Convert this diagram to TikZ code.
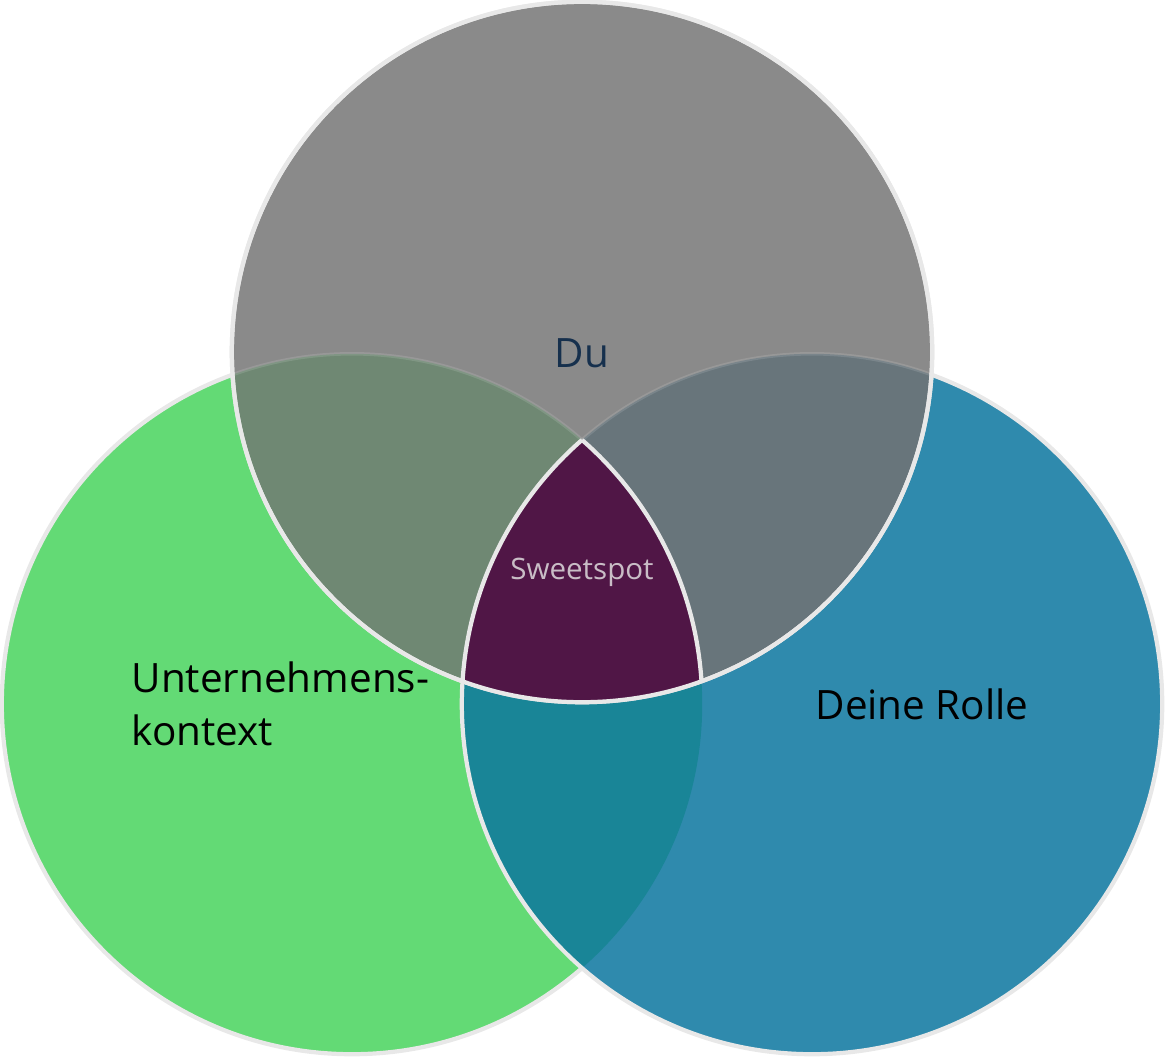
\documentclass[tikz,border=0pt]{standalone}
\usepackage{fontspec}
\setmainfont{Open Sans}
\definecolor{duGray}{HTML}{8A8A8A}
\definecolor{firmaGreen}{HTML}{63DA75}
\definecolor{rolleBlue}{HTML}{2F8AAD}
\definecolor{grayGreen}{HTML}{6F8873}
\definecolor{grayBlue}{HTML}{68757B}
\definecolor{greenBlue}{HTML}{198597}
\definecolor{spotPurple}{HTML}{501646}
\definecolor{ringWhite}{HTML}{E8E8E8}
\definecolor{duNavy}{HTML}{16304D}
\definecolor{spotText}{HTML}{C9BDC6}
\tikzset{
	ring/.style={draw=ringWhite, line width=1.2pt},
	faintring/.style={draw=white, draw opacity=0.12, line width=1pt},
	setname/.style={font=\fontsize{11.5}{15}\selectfont, text=black, inner sep=0pt},
	spotname/.style={font=\fontsize{8.4}{10}\selectfont, text=spotText, inner sep=0pt},
}
\def\rad{3.5cm}

\begin{document}
\begin{tikzpicture}[x=0.01cm, y=-0.01cm]
	\useasboundingbox (0,0) rectangle (1165,1058);
	\coordinate (du) at (582,352);
	\coordinate (firma) at (352,704);
	\coordinate (rolle) at (812,704);
	% lower circles
	\fill[firmaGreen] (firma) circle[radius=\rad];
	\draw[ring] (firma) circle[radius=\rad];
	\fill[rolleBlue] (rolle) circle[radius=\rad];
	\begin{scope}
		\clip (firma) circle[radius=\rad];
		\fill[greenBlue] (rolle) circle[radius=\rad];
	\end{scope}
	\draw[ring] (rolle) circle[radius=\rad];
	% top circle
	\fill[duGray] (du) circle[radius=\rad];
	\begin{scope}
		\clip (du) circle[radius=\rad];
		\fill[grayGreen] (firma) circle[radius=\rad];
		\fill[grayBlue] (rolle) circle[radius=\rad];
		\draw[faintring] (firma) circle[radius=\rad];
		\draw[faintring] (rolle) circle[radius=\rad];
	\end{scope}
	\draw[ring] (du) circle[radius=\rad];
	% sweetspot
	\begin{scope}
		\clip (du) circle[radius=\rad];
		\clip (firma) circle[radius=\rad];
		\fill[spotPurple] (rolle) circle[radius=\rad];
		\draw[ring] (rolle) circle[radius=\rad];
	\end{scope}
	\begin{scope}
		\clip (du) circle[radius=\rad];
		\clip (rolle) circle[radius=\rad];
		\draw[ring] (firma) circle[radius=\rad];
	\end{scope}
	\draw[ring] (du) circle[radius=\rad];
	% labels
	\node[setname, text=duNavy] (duText) at (582,353) {Du};
	\node[setname, align=left, anchor=west] (firmaText) at (131,704) {Unternehmens-\\kontext};
	\node[setname] (rolleText) at (922,704) {Deine Rolle};
	\node[spotname] (spotLabel) at (582,572) {Sweetspot};
\end{tikzpicture}
\end{document}
